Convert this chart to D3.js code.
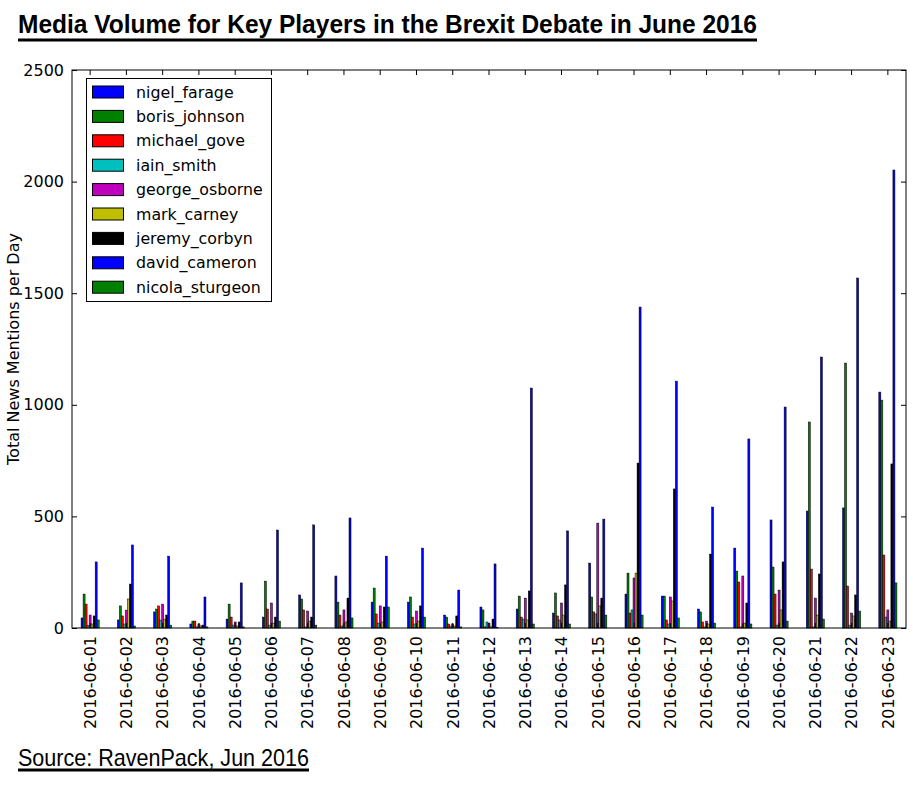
<!DOCTYPE html>
<html><head><meta charset="utf-8">
<script src="https://cdn.jsdelivr.net/npm/d3@7"></script>
<style>body{margin:0;background:#fff}</style>
</head><body>
<script>
const dates = ["2016-06-01","2016-06-02","2016-06-03","2016-06-04","2016-06-05","2016-06-06","2016-06-07","2016-06-08","2016-06-09","2016-06-10","2016-06-11","2016-06-12","2016-06-13","2016-06-14","2016-06-15","2016-06-16","2016-06-17","2016-06-18","2016-06-19","2016-06-20","2016-06-21","2016-06-22","2016-06-23"];
const seriesNames = ["nigel_farage","boris_johnson","michael_gove","iain_smith","george_osborne","mark_carney","jeremy_corbyn","david_cameron","nicola_sturgeon"];
const seriesColors = ["#0000ff","#008000","#ff0000","#00bfbf","#bf00bf","#bfbf00","#000000","#0000ff","#008000"];
const nigel_farage   = [45,36,72,18,40,49,148,233,116,116,58,94,85,67,291,152,143,85,358,484,524,538,1057];
const boris_johnson  = [152,99,85,31,107,210,130,116,179,139,49,81,143,157,139,246,143,72,255,273,923,1187,1021];
const michael_gove   = [107,54,99,31,49,85,81,58,63,49,18,5,49,54,72,67,36,27,206,152,264,188,327];
const iain_smith     = [12,18,36,5,13,13,5,9,22,18,9,27,40,36,63,81,18,5,5,13,5,13,49];
const george_osborne = [58,80,107,18,27,112,76,81,99,76,18,22,134,112,470,224,139,31,233,170,134,67,81];
const mark_carney    = [18,130,40,9,9,22,31,27,27,31,9,5,36,58,99,246,121,18,22,81,58,54,31];
const jeremy_corbyn  = [54,197,58,13,27,49,49,134,94,99,54,40,166,193,134,739,623,331,112,296,242,148,735];
const david_cameron  = [296,372,322,139,202,439,462,493,322,358,170,287,1075,435,488,1438,1106,542,847,990,1214,1568,2052];
const nicola_sturgeon= [36,9,13,5,5,31,13,45,94,49,5,3,18,18,58,58,45,22,18,31,40,76,202];
const allSeries = [nigel_farage,boris_johnson,michael_gove,iain_smith,george_osborne,mark_carney,jeremy_corbyn,david_cameron,nicola_sturgeon];
const yTicks = [0,500,1000,1500,2000,2500];

const W = 913, H = 792;
const L = 72, R = 906, T = 70, B = 628;
const FONT = "'DejaVu Sans', sans-serif";
const svg = d3.select("body").append("svg").attr("width", W).attr("height", H)
  .style("font-family", FONT);

const x = d3.scaleBand().domain(dates).range([L, R]).paddingInner(0.5).paddingOuter(0.25);
const xs = d3.scaleBand().domain(seriesNames).range([0, x.bandwidth()]);
const y = d3.scaleLinear().domain([0, 2500]).range([B, T]);

// bars
const groups = svg.append("g").selectAll("g").data(dates).join("g")
  .attr("transform", d => `translate(${x(d)},0)`);
groups.selectAll("rect").data((d, i) => seriesNames.map((s, j) => ({s, j, v: allSeries[j][i]})))
  .join("rect")
  .attr("x", d => xs(d.s))
  .attr("width", xs.bandwidth())
  .attr("y", d => y(d.v))
  .attr("height", d => B - y(d.v))
  .attr("fill", d => seriesColors[d.j])
  .attr("stroke", "#000").attr("stroke-width", 0.5);

// frame
svg.append("rect").attr("x", L).attr("y", T).attr("width", R - L).attr("height", B - T)
  .attr("fill", "none").attr("stroke", "#000").attr("stroke-width", 1);

// y axis
const yAxis = d3.axisLeft(y).tickValues(yTicks).tickFormat(d3.format("d")).tickSizeInner(-5).tickSizeOuter(0).tickPadding(8);
const gy = svg.append("g").attr("transform", `translate(${L},0)`).call(yAxis);
gy.select(".domain").remove();
gy.selectAll("text").style("font-size", "16px").style("font-family", FONT).attr("fill", "#000");
gy.selectAll("line").attr("stroke", "#000");
const yAxisR = d3.axisRight(y).tickValues(yTicks).tickSizeInner(-5).tickSizeOuter(0).tickFormat("");
const gyr = svg.append("g").attr("transform", `translate(${R},0)`).call(yAxisR);
gyr.select(".domain").remove();

// x axis
const xAxis = d3.axisBottom(x).tickSizeInner(-5).tickSizeOuter(0).tickPadding(8);
const gx = svg.append("g").attr("transform", `translate(0,${B})`).call(xAxis);
gx.select(".domain").remove();
gx.selectAll("text")
  .style("font-size", "16px").style("font-family", FONT).attr("fill", "#000")
  .attr("transform", "rotate(-90)")
  .attr("text-anchor", "end")
  .attr("x", -8).attr("y", 0).attr("dy", "0.36em");
const xAxisT = d3.axisTop(x).tickSizeInner(-5).tickSizeOuter(0).tickFormat("");
const gxt = svg.append("g").attr("transform", `translate(0,${T})`).call(xAxisT);
gxt.select(".domain").remove();

// y label
svg.append("text").attr("transform", `translate(19,${(T + B) / 2}) rotate(-90)`)
  .attr("text-anchor", "middle").style("font-size", "16px").text("Total News Mentions per Day");

// legend
const lg = svg.append("g");
lg.append("rect").attr("x", 86.5).attr("y", 78.5).attr("width", 185).attr("height", 223)
  .attr("fill", "#fff").attr("stroke", "#000").attr("stroke-width", 1);
seriesNames.forEach((s, j) => {
  const yy = 92 + j * 24.4;
  lg.append("rect").attr("x", 92.5).attr("y", yy - 6).attr("width", 31).attr("height", 12)
    .attr("fill", seriesColors[j]).attr("stroke", "#000").attr("stroke-width", 1);
  lg.append("text").attr("x", 136).attr("y", yy + 5.5).style("font-size", "15.8px").text(s);
});

// title
svg.append("text").attr("x", 18).attr("y", 33)
  .style("font-family", "'Liberation Sans Narrow', 'Arial Narrow', 'Liberation Sans', sans-serif")
  .style("font-weight", "bold").style("font-size", "26px")
  .attr("textLength", 739).attr("lengthAdjust", "spacingAndGlyphs")
  .text("Media Volume for Key Players in the Brexit Debate in June 2016");
svg.append("rect").attr("x", 18).attr("y", 38.5).attr("width", 739).attr("height", 3).attr("fill", "#000");

// source
svg.append("text").attr("x", 18).attr("y", 766)
  .style("font-family", "'Liberation Sans Narrow', 'Arial Narrow', 'Liberation Sans', sans-serif")
  .style("font-size", "24px")
  .attr("textLength", 291).attr("lengthAdjust", "spacingAndGlyphs")
  .text("Source: RavenPack, Jun 2016");
svg.append("rect").attr("x", 18).attr("y", 768.5).attr("width", 291).attr("height", 3).attr("fill", "#000");
</script>
</body></html>
